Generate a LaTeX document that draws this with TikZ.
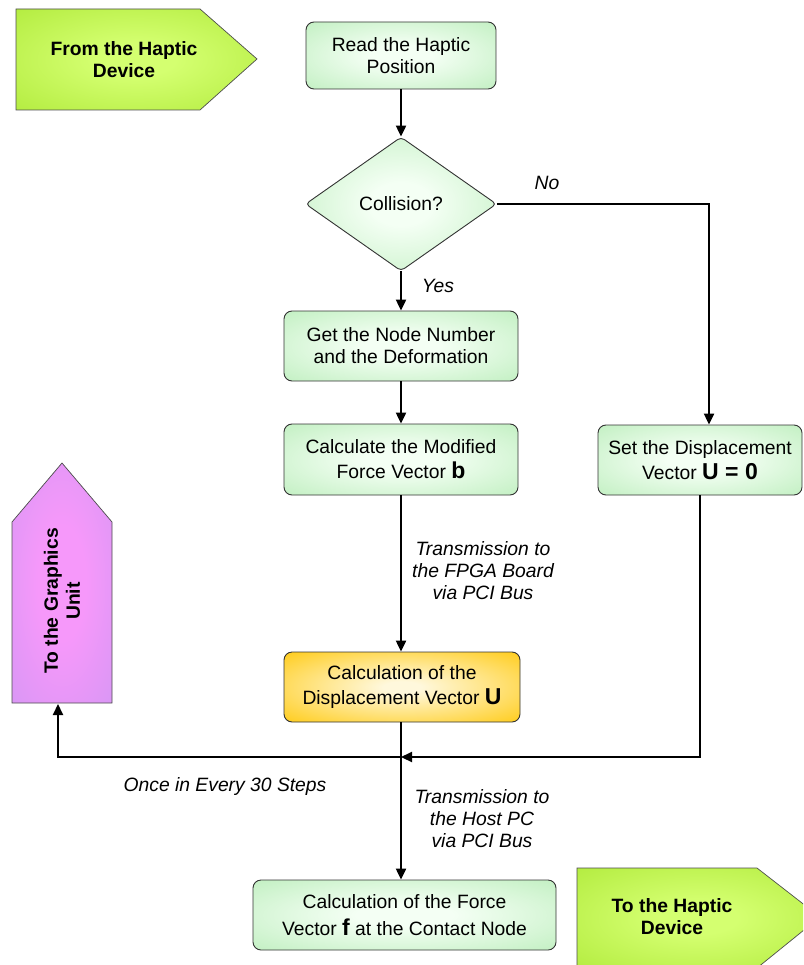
\documentclass[tikz,border=0pt]{standalone}
\usepackage{fontspec}
\setmainfont{Liberation Sans}
\usetikzlibrary{shapes.geometric,arrows.meta}
\definecolor{gin}{RGB}{244,255,244}
\definecolor{gout}{RGB}{176,234,176}
\definecolor{lin}{RGB}{212,255,112}
\definecolor{lout}{RGB}{166,228,44}
\definecolor{pin}{RGB}{246,152,250}
\definecolor{pout}{RGB}{200,150,242}
\definecolor{yin}{RGB}{255,248,220}
\definecolor{yout}{RGB}{255,198,0}
\pgfdeclareradialshading{greenbox}{\pgfpoint{0bp}{0bp}}{color(0bp)=(gin); color(8bp)=(gin); color(46bp)=(gout); color(70bp)=(gout)}
\pgfdeclareradialshading{limebox}{\pgfpoint{0bp}{0bp}}{color(0bp)=(lin); color(8bp)=(lin); color(48bp)=(lout); color(70bp)=(lout)}
\pgfdeclareradialshading{purplebox}{\pgfpoint{0bp}{0bp}}{color(0bp)=(pin); color(12bp)=(pin); color(50bp)=(pout); color(70bp)=(pout)}
\pgfdeclareradialshading{yellowbox}{\pgfpoint{0bp}{0bp}}{color(0bp)=(yin); color(4bp)=(yin); color(40bp)=(yout); color(70bp)=(yout)}
\newcommand{\fsz}{\fontsize{19.3}{22}\selectfont}
\newcommand{\vb}[1]{\textbf{\fontsize{23}{22}\selectfont #1}}
\begin{document}
\begin{tikzpicture}[x=1pt,y=-1pt,
  box/.style={draw=black!80, line width=0.9pt, rounded corners=8pt, inner sep=0pt,
    align=center, font=\fsz, shading=greenbox},
  conn/.style={line width=2.2pt, -{Triangle[length=11pt,width=10pt]}},
  lbl/.style={font=\fsz\itshape, align=center, inner sep=0pt},
  tag/.style={font=\fsz\bfseries, align=center, inner sep=0pt},
  pent/.style={draw=black!70, line width=0.7pt}]
\useasboundingbox (0,0) rectangle (803,965);
\clip (0,0) rectangle (803,965);

% side pentagons
\path[pent, shading=limebox] (16,9) -- (200,9) -- (257,59) -- (200,110) -- (16,110) -- cycle;
\node[tag] (from) at (124,60) {From the Haptic\\Device};
\path[pent, shading=limebox] (577,868) -- (757,868) -- (820,917) -- (757,968) -- (577,968) -- cycle;
\node[tag] (tohap) at (672,917) {To the Haptic\\Device};
\path[pent, shading=purplebox] (12,703) -- (12,522) -- (62,463) -- (112,522) -- (112,703) -- cycle;
\node[tag, rotate=90] (togr) at (62,601) {To the Graphics\\Unit};
\coordinate (gbot) at (58,704);

% main boxes
\node[box, minimum width=190pt, minimum height=67pt] (read) at (401,55.5) {Read the Haptic\\Position};
\node[box, shape=diamond, rounded corners=4pt, minimum width=191pt, minimum height=134pt] (coll) at (401,204) {Collision?};
\node[box, minimum width=234pt, minimum height=70pt] (getn) at (401,346) {Get the Node Number\\and the Deformation};
\node[box, minimum width=234pt, minimum height=71pt] (calcb) at (401,459.5) {Calculate the Modified\\[3pt]Force Vector \vb{b}};
\node[box, shading=yellowbox, minimum width=236pt, minimum height=70pt] (disp) at (402,687) {Calculation of the\\[3pt]Displacement Vector \vb{U}};
\node[box, minimum width=204pt, minimum height=70pt] (setU) at (700,460) {Set the Displacement\\[3pt]Vector \vb{U = 0}};
\node[box, minimum width=303pt, minimum height=70pt] (force) at (404.5,915) {Calculation of the Force\\[5pt]Vector \vb{f} at the Contact Node};
\coordinate (j) at (401,757);

% connectors
\draw[conn] (read.south) -- (coll.north);
\draw[conn] (coll.south) -- (coll.south |- getn.north);
\draw[conn] (getn.south) -- (calcb.north);
\draw[conn] (calcb.south) -- (calcb.south |- disp.north);
\draw[conn] (calcb.south |- disp.south) -- (calcb.south |- force.north);
\draw[conn] (coll.east) -| ([xshift=9pt]setU.north);
\draw[conn] (setU.south) |- (j);
\draw[conn] (j) -| (gbot);

% labels
\node[lbl] (no) at (547,183) {No};
\node[lbl] (yes) at (438,286) {Yes};
\node[lbl] (fpga) at (483,571) {Transmission to\\the FPGA Board\\via PCI Bus};
\node[lbl] (host) at (482,819) {Transmission to\\the Host PC\\via PCI Bus};
\node[lbl] (once) at (225,787) {Once in Every 30 Steps};
\end{tikzpicture}
\end{document}
